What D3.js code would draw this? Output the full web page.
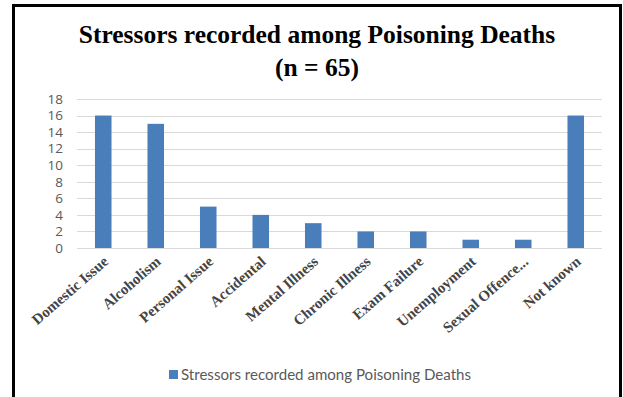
<!DOCTYPE html>
<html>
<head>
<meta charset="utf-8">
<script src="https://cdn.jsdelivr.net/npm/d3@7"></script>
<style>
  html, body { margin: 0; padding: 0; background: #fff; }
  svg { display: block; }
</style>
</head>
<body>
<svg id="chart" width="623" height="397"></svg>
<script>
// Chart data
const categories = ["Domestic Issue", "Alcoholism", "Personal Issue", "Accidental", "Mental Illness",
                    "Chronic Illness", "Exam Failure", "Unemployment", "Sexual Offence...", "Not known"];
const values = [16, 15, 5, 4, 3, 2, 2, 1, 1, 16];
const yTicks = [0, 2, 4, 6, 8, 10, 12, 14, 16, 18];
const titleLines = ["Stressors recorded among Poisoning Deaths", "(n = 65)"];
const seriesName = "Stressors recorded among Poisoning Deaths";

const svg = d3.select("#chart");
const barColor = "#4a7ebb";
const gray = "#595959";

// outer frame
svg.append("rect")
  .attr("x", 13.5).attr("y", 5.5)
  .attr("width", 607).attr("height", 420)
  .attr("fill", "none").attr("stroke", "#000").attr("stroke-width", 3);

// title
const title = svg.append("g")
  .attr("font-family", "'Liberation Serif', 'Times New Roman', serif")
  .attr("font-weight", "bold").attr("fill", "#000").attr("text-anchor", "middle");
title.append("text").attr("x", 317).attr("y", 43).attr("font-size", 25.5).text(titleLines[0]);
title.append("text").attr("x", 317).attr("y", 76).attr("font-size", 25.5).text(titleLines[1]);

// scales
const x = d3.scaleBand().domain(categories).range([77, 602]).paddingInner(0.685).paddingOuter(0.3425);
const y = d3.scaleLinear().domain([0, 18]).range([248, 99]);

// gridlines
svg.append("g").selectAll("line").data(yTicks).join("line")
  .attr("x1", 77).attr("x2", 602)
  .attr("y1", d => Math.round(y(d)) + 0.5).attr("y2", d => Math.round(y(d)) + 0.5)
  .attr("stroke", "#d9d9d9").attr("stroke-width", 1);

// y axis labels
const yAxis = svg.append("g").attr("transform", "translate(63,0)")
  .call(d3.axisLeft(y).tickValues(yTicks).tickSize(0).tickPadding(0));
yAxis.select(".domain").remove();
yAxis.selectAll("text")
  .attr("font-family", "'Open Sans', Lato, sans-serif").attr("font-size", 13.5).attr("fill", gray);

// bars
svg.append("g").selectAll("rect").data(values).join("rect")
  .attr("x", (d, i) => x(categories[i]))
  .attr("width", x.bandwidth())
  .attr("y", d => y(d))
  .attr("height", d => y(0) - y(d))
  .attr("fill", barColor);

// category labels, rotated
svg.append("g").selectAll("text").data(categories).join("text")
  .attr("transform", d => `translate(${x(d) + x.bandwidth() / 2 + 6},${263}) rotate(-41)`)
  .attr("text-anchor", "end")
  .attr("font-family", "'Liberation Serif', 'Times New Roman', serif")
  .attr("font-weight", "bold").attr("font-size", 15).attr("fill", "#444")
  .text(d => d);

// legend
const legend = svg.append("g");
legend.append("rect").attr("x", 169).attr("y", 370).attr("width", 9).attr("height", 9).attr("fill", barColor);
legend.append("text").attr("x", 181).attr("y", 380)
  .attr("font-family", "Lato, 'Open Sans', sans-serif").attr("font-size", 14.5).attr("fill", gray)
  .attr("textLength", 290).attr("lengthAdjust", "spacingAndGlyphs")
  .text(seriesName);
</script>
</body>
</html>
